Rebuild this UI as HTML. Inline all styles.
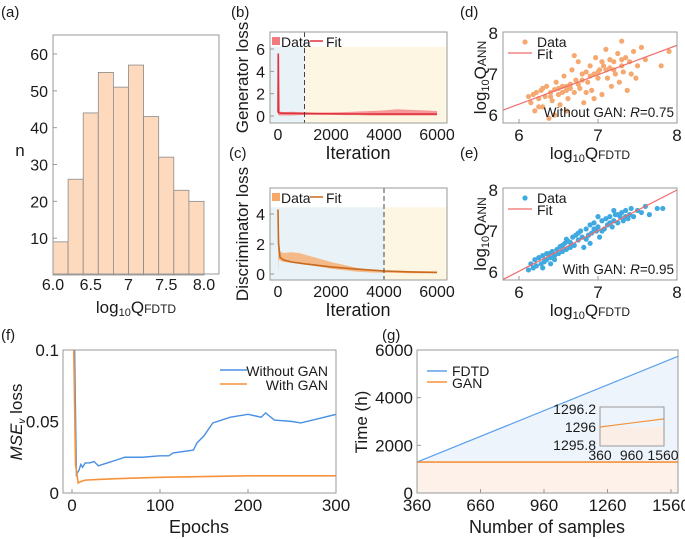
<!DOCTYPE html>
<html><head><meta charset="utf-8">
<style>
html,body{margin:0;padding:0;background:#fff;}
svg{display:block;font-family:"Liberation Sans",Arial,sans-serif;}
text{fill:#1a1a1a;}
</style></head>
<body>
<svg id="fig" width="685" height="539" viewBox="0 0 685 539" xmlns="http://www.w3.org/2000/svg"></svg>
<script>
// ---------- data ----------
const histBins = [6.0,6.2,6.4,6.6,6.8,7.0,7.2,7.4,7.6,7.8];
const histCounts = [9,26,44,55,51,57,43,32,23,20];
const histYTicks = [10,20,30,40,50,60];
const histXTicks = ["6.0","6.5","7","7.5","8.0"];
const histXTickVals = [6.0,6.5,7,7.5,8.0];

const genIter = [0,10,30,60,200,500,800,1000,1500,2000,2500,3000,3500,4000,4500,5000,5500,6000];
const genHi   = [0.5,5.8,0.45,0.4,0.35,0.38,0.35,0.35,0.3,0.32,0.35,0.4,0.45,0.5,0.6,0.55,0.5,0.45];
const genLo   = [0.1,0.1,0.05,0.05,0.05,0.05,0.08,0.1,0.1,0.1,0.08,0.08,0.05,0.05,0.05,0.05,0.05,0.05];
const genFitIter = [0,10,30,100,1000,3000,6000];
const genFit  = [0.3,5.6,0.3,0.25,0.22,0.18,0.17];

const discIter = [0,20,80,200,500,800,1000,1500,2000,2500,3000,3500,4000,5000,6000];
const discHi   = [4.3,3.0,1.5,1.4,1.45,1.4,1.3,1.05,0.8,0.6,0.4,0.3,0.25,0.2,0.18];
const discLo   = [0.1,1.0,0.9,0.8,0.75,0.7,0.65,0.5,0.35,0.25,0.15,0.1,0.08,0.05,0.05];
const discFitIter = [0,20,80,200,500,1000,2000,3000,4000,5000,6000];
const discFit  = [4.3,2.0,1.1,0.95,0.8,0.68,0.47,0.32,0.2,0.14,0.1];

const dPts = [[6.12,6.45],[6.15,6.3],[6.18,6.5],[6.2,6.1],[6.22,6.55],[6.25,6.4],[6.28,6.6],[6.3,6.2],[6.33,6.45],[6.35,6.7],[6.38,5.92],[6.4,6.55],[6.42,6.35],[6.45,6.62],[6.47,6.8],[6.5,6.5],[6.52,6.25],[6.55,6.7],[6.57,6.95],[6.6,6.6],[6.62,6.4],[6.65,6.75],[6.67,7.1],[6.7,6.55],[6.72,6.85],[6.75,7.3],[6.77,6.65],[6.8,7.0],[6.82,6.3],[6.85,7.05],[6.87,6.8],[6.9,7.2],[6.92,6.6],[6.95,7.0],[6.97,7.4],[7.0,6.9],[7.02,7.1],[7.05,6.5],[7.07,7.2],[7.1,7.6],[7.12,6.9],[7.15,7.15],[7.17,6.7],[7.2,7.3],[7.22,7.0],[7.25,7.5],[7.27,6.8],[7.3,7.2],[7.32,7.05],[7.35,7.4],[7.37,6.6],[7.4,7.3],[7.42,7.0],[7.45,7.55],[7.5,7.2],[7.55,7.65],[7.6,7.35],[7.3,7.8],[7.8,7.2],[7.9,7.55],[6.7,7.45],[6.6,6.1],[6.45,6.0],[7.15,7.35],[6.95,6.4],[7.05,7.3],[6.85,6.55],[6.3,6.65],[7.48,6.9],[6.25,6.2],[6.55,6.55],[6.65,6.65],[6.75,6.75],[6.9,6.95],[7.0,7.05],[7.1,7.1],[7.2,7.1],[6.4,6.45],[6.5,6.65],[7.3,7.35],[6.8,6.85],[6.6,6.7]];
const dFit = [[5.8,6.12],[8.0,7.7]];
const ePts = [[6.12,6.05],[6.15,6.2],[6.18,6.1],[6.2,6.3],[6.22,6.15],[6.25,6.35],[6.28,6.2],[6.3,6.4],[6.32,6.25],[6.35,6.3],[6.38,6.45],[6.4,6.35],[6.42,6.5],[6.45,6.4],[6.48,6.55],[6.5,6.45],[6.52,6.62],[6.55,6.5],[6.58,6.7],[6.6,6.55],[6.62,6.75],[6.65,6.6],[6.68,6.85],[6.7,6.65],[6.72,6.9],[6.75,6.78],[6.78,7.0],[6.8,6.85],[6.82,6.6],[6.85,7.05],[6.88,6.9],[6.9,7.15],[6.92,6.95],[6.95,7.2],[6.98,7.0],[7.0,7.1],[7.02,6.85],[7.05,7.25],[7.08,7.05],[7.1,7.3],[7.12,7.15],[7.15,7.35],[7.18,7.1],[7.2,7.25],[7.22,7.4],[7.25,7.2],[7.28,7.35],[7.3,7.45],[7.32,7.25],[7.35,7.5],[7.38,7.3],[7.4,7.4],[7.42,7.55],[7.45,7.35],[7.5,7.5],[7.55,7.45],[7.6,7.6],[7.65,7.4],[7.75,7.55],[7.82,7.55],[6.9,6.7],[7.0,7.35],[6.6,6.8],[6.4,6.2],[7.2,7.5],[6.3,6.1],[6.35,6.45],[6.55,6.65],[6.75,6.95],[6.95,7.05],[7.05,7.0],[7.15,7.2],[7.25,7.4],[7.35,7.35],[6.45,6.3],[6.65,6.72],[6.85,6.8]];
const eFit = [[5.8,5.82],[8.0,8.0]];

const fEpochs = [3,5,8,10,12,15,20,25,30,40,50,60,80,100,110,115,138,142,150,160,180,200,215,220,230,250,260,280,300];
const fBlue   = [0.1,0.013,0.016,0.02,0.018,0.021,0.021,0.022,0.019,0.021,0.023,0.025,0.025,0.026,0.026,0.028,0.03,0.035,0.04,0.049,0.053,0.055,0.053,0.056,0.051,0.05,0.049,0.052,0.055];
const fOrangeEp = [2,4,7,10,15,30,50,100,150,200,250,300];
const fOrange = [0.1,0.02,0.007,0.008,0.009,0.0095,0.01,0.011,0.0115,0.012,0.012,0.012];

const gSamples = [360,1593];
const gFDTD = [1296,5735];
const gGAN = [1296,1296.09];
const gXTicks = [360,660,960,1260,1560];
const gYTicks = [0,2000,4000,6000];

// ---------- helpers ----------
const NS="http://www.w3.org/2000/svg";
const svg=document.getElementById('fig');
function el(tag,attrs,parent){const e=document.createElementNS(NS,tag);for(const k in attrs)e.setAttribute(k,attrs[k]);(parent||svg).appendChild(e);return e;}
function txt(s,x,y,size,anchor,parent,extra){const t=el('text',Object.assign({x:x,y:y,'font-size':size,'text-anchor':anchor||'middle'},extra||{}),parent);t.textContent=s;return t;}
function lin(d0,d1,r0,r1){return v=>r0+(v-d0)*(r1-r0)/(d1-d0);}
function box(x0,y0,x1,y1,parent){return el('rect',{x:x0,y:y0,width:x1-x0,height:y1-y0,fill:'none',stroke:'#999','stroke-width':1},parent);}
const TF=16, AF=18;

// ---------- panel labels ----------
[["(a)",1,17],["(b)",231,17],["(c)",229,158],["(d)",460,17],["(e)",460,158],["(f)",1,340],["(g)",382,340]].forEach(p=>{
 const t=txt(p[0],p[1],p[2],15,'start');
 
 
});

// ---------- (a) histogram ----------
(function(){
 const g=el('g',{});
 
 
 const X=lin(6.0,8.0,53,204), Y=lin(0,60,275,54);
 histCounts.forEach((c,i)=>{
  const r=el('rect',{x:X(histBins[i]),y:Y(c),width:X(histBins[i]+0.2)-X(histBins[i]),height:Y(0)-Y(c),fill:'#fdd9bd',stroke:'#8a8a8a','stroke-width':0.8},g);
  
  
 });
 box(53,35,219,274,g);
 histYTicks.forEach(v=>{el('line',{x1:53,x2:57,y1:Y(v),y2:Y(v),stroke:'#999'},g);txt(String(v),48,Y(v)+6,TF,'end',g);});
 histXTicks.forEach((s,i)=>txt(s,X(histXTickVals[i]),290,TF,'middle',g));
 const n=txt('n',20,156,17,'middle',g);
 
 
 const xl=el('text',{x:136,y:313,'font-size':17,'text-anchor':'middle'},g);
 xl.innerHTML='log<tspan font-size="11" dy="3">10</tspan><tspan dy="-3">Q</tspan><tspan font-size="12">FDTD</tspan>';
 
 
})();

// ---------- (b)(c) loss panels ----------
function lossPanel(name,top,bot,ymax,yTicks,split,iter,hi,lo,fitIt,fit,dataCol,fitCol,ylabel,shadeTop){
 const g=el('g',{});
 
 
 const X=lin(0,6000,278,437);
 const Y=lin(0,ymax,yTicks.y0,yTicks.yTop);
 el('rect',{x:270,y:Y(shadeTop),width:X(split)-270,height:bot-Y(shadeTop),fill:'#e9f3f7'},g);
 el('rect',{x:X(split),y:Y(shadeTop),width:447-X(split),height:bot-Y(shadeTop),fill:'#fdf6e3'},g);
 let pts=iter.map((t,i)=>X(t)+','+Y(hi[i])).join(' ')+' '+iter.slice().reverse().map((t,i)=>X(t)+','+Y(lo[lo.length-1-i])).join(' ');
 const band=el('polygon',{points:pts,fill:dataCol,opacity:0.75},g);
 
 
 const fl=el('polyline',{points:fitIt.map((t,i)=>X(t)+','+Y(fit[i])).join(' '),fill:'none',stroke:fitCol,'stroke-width':1.6},g);
 
 
 el('line',{x1:X(split),x2:X(split),y1:top,y2:bot,stroke:'#444','stroke-dasharray':'5,3','stroke-width':1},g);
 box(270,top,447,bot,g);
 yTicks.vals.forEach(v=>{el('line',{x1:270,x2:274,y1:Y(v),y2:Y(v),stroke:'#999'},g);txt(String(v),265,Y(v)+6,TF,'end',g);});
 [0,2000,4000,6000].forEach(v=>txt(String(v),X(v),bot+17,TF,'middle',g));
 el('rect',{x:272,y:top+5,width:8,height:8,fill:dataCol},g);
 txt('Data',281,top+15,14,'start',g);
 el('line',{x1:310,x2:323,y1:top+9,y2:top+9,stroke:fitCol,'stroke-width':1.5},g);
 txt('Fit',326,top+15,14,'start',g);
 const yl=txt(ylabel,0,0,17,'middle',g,{transform:'translate(248,'+((top+bot)/2)+') rotate(-90)'});
 
 
 const xl=txt('Iteration',358,bot+36,AF,'middle',g);
 
 
}
lossPanel('generator-loss-panel',32,123,6,{vals:[0,2,4,6],y0:116,yTop:49},1000,genIter,genHi,genLo,genFitIter,genFit,'#f47a7f','#e0323c','Generator loss',6.2);
lossPanel('discriminator-loss-panel',188,280,4,{vals:[0,2,4],y0:274,yTop:214},4000,discIter,discHi,discLo,discFitIter,discFit,'#f7a766','#c96a1e','Discriminator loss',4.45);

// ---------- (d)(e) scatter ----------
function scatter(name,top,bot,y8,y6,pts,fit,col,note,rtext){
 const g=el('g',{});
 
 
 const X=lin(6,8,519,677), Y=lin(6,8,y6,y8);
 g.appendChild(document.createElementNS(NS,'defs')).innerHTML='<clipPath id="c'+name+'"><rect x="503" y="'+top+'" width="174" height="'+(bot-top)+'"/></clipPath>';
 const cg=el('g',{'clip-path':'url(#c'+name+')'},g);
 pts.forEach(p=>{
  const c=el('circle',{cx:X(p[0]),cy:Y(p[1]),r:2.6,fill:col},cg);
  
  
 });
 const fl=el('line',{x1:X(fit[0][0]),y1:Y(fit[0][1]),x2:X(fit[1][0]),y2:Y(fit[1][1]),stroke:'#ef6b6b','stroke-width':1.2},cg);
 
 
 box(503,top,677,bot,g);
 [6,7,8].forEach(v=>{txt(String(v),498,Y(v)+6,17,'end',g);txt(String(v),X(v),bot+18,17,'middle',g);el('line',{x1:X(v),x2:X(v),y1:bot,y2:bot-4,stroke:'#999'},g);});
 el('circle',{cx:525,cy:top+10,r:2.6,fill:col},g);
 txt('Data',537,top+15,14,'start',g);
 el('line',{x1:508,x2:532,y1:top+21,y2:top+21,stroke:'#ef6b6b','stroke-width':1.2},g);
 txt('Fit',537,top+27,14,'start',g);
 const nt=el('text',{x:674,y:bot-6,'font-size':13.5,'text-anchor':'end'},g);
 nt.innerHTML=note+': <tspan font-style="italic">R</tspan>='+rtext;
 const yl=el('text',{transform:'translate(486,'+((top+bot)/2)+') rotate(-90)','font-size':17,'text-anchor':'middle'},g);
 yl.innerHTML='log<tspan font-size="11" dy="3">10</tspan><tspan dy="-3">Q</tspan><tspan font-size="12">ANN</tspan>';
 
 
 const xl=el('text',{x:590,y:bot+36,'font-size':17,'text-anchor':'middle'},g);
 xl.innerHTML='log<tspan font-size="11" dy="3">10</tspan><tspan dy="-3">Q</tspan><tspan font-size="12">FDTD</tspan>';
 
 
}
scatter('d-without-gan-scatter',32,123,33,115,dPts,dFit,'#f5a870','Without GAN','0.75');
scatter('e-with-gan-scatter',188,280,190,272,ePts,eFit,'#3fa9e0','With GAN','0.95');

// ---------- (f) MSE ----------
(function(){
 const g=el('g',{});
 
 
 const X=lin(0,300,72,336), Y=lin(0,0.1,493,350);
 g.appendChild(document.createElementNS(NS,'defs')).innerHTML='<clipPath id="cf"><rect x="63" y="350" width="273" height="143"/></clipPath>';
 const cg=el('g',{'clip-path':'url(#cf)'},g);
 const b=el('polyline',{points:fEpochs.map((e,i)=>X(e)+','+Y(fBlue[i])).join(' '),fill:'none',stroke:'#4a90e2','stroke-width':1.4},cg);
 
 
 const o=el('polyline',{points:fOrangeEp.map((e,i)=>X(e)+','+Y(fOrange[i])).join(' '),fill:'none',stroke:'#f7923a','stroke-width':1.6},cg);
 
 
 box(63,350,336,493,g);
 [[0,'0'],[0.05,'0.05'],[0.1,'0.1']].forEach(t=>txt(t[1],59,Y(t[0])+6,17,'end',g));
 [0,100,200,300].forEach(v=>{txt(String(v),X(v),511,17,'middle',g);el('line',{x1:X(v),x2:X(v),y1:493,y2:489,stroke:'#999'},g);});
 el('line',{x1:220,x2:247,y1:370,y2:370,stroke:'#4a90e2','stroke-width':1.4},g);
 el('line',{x1:220,x2:247,y1:384,y2:384,stroke:'#f7923a','stroke-width':1.6},g);
 txt('Without GAN',328,376,14,'end',g);
 txt('With   GAN',328,390,14,'end',g,{'xml:space':'preserve'});
 const yl=el('text',{transform:'translate(22,422) rotate(-90)','font-size':17,'text-anchor':'middle'},g);
 yl.innerHTML='<tspan font-style="italic">MSE</tspan><tspan font-style="italic" font-size="10" dy="3">v</tspan><tspan dy="-3">  loss</tspan>';
 
 
 const xl=txt('Epochs',199,533,AF,'middle',g);
 
 
})();

// ---------- (g) Time ----------
(function(){
 const g=el('g',{});
 
 
 const X=lin(360,1560,417,671), Y=lin(0,6000,493,350);
 el('polygon',{points:[X(gSamples[0])+','+Y(gFDTD[0]),X(gSamples[1])+','+Y(gFDTD[1]),X(gSamples[1])+','+Y(gGAN[0]),X(gSamples[0])+','+Y(gGAN[0])].join(' '),fill:'#eef4fc'},g);
 el('rect',{x:417,y:Y(gGAN[0]),width:261,height:493-Y(gGAN[0]),fill:'#fdf1ea'},g);
 const f=el('line',{x1:X(gSamples[0]),y1:Y(gFDTD[0]),x2:X(gSamples[1]),y2:Y(gFDTD[1]),stroke:'#5aa0ee','stroke-width':1.2},g);
 
 
 const gl=el('line',{x1:X(gSamples[0]),y1:Y(gGAN[0]),x2:X(gSamples[1]),y2:Y(gGAN[1]),stroke:'#f7923a','stroke-width':1.6},g);
 
 
 box(417,350,678,493,g);
 gYTicks.forEach(v=>{txt(String(v),413,Y(v)+6,17,'end',g);el('line',{x1:417,x2:421,y1:Y(v),y2:Y(v),stroke:'#999'},g);});
 gXTicks.forEach(v=>{txt(String(v),X(v),511,17,'middle',g);el('line',{x1:X(v),x2:X(v),y1:493,y2:489,stroke:'#999'},g);});
 el('line',{x1:427,x2:447,y1:371,y2:371,stroke:'#5aa0ee','stroke-width':1.4},g);
 el('line',{x1:427,x2:447,y1:382,y2:382,stroke:'#f7923a','stroke-width':1.6},g);
 txt('FDTD',452,376,14,'start',g);
 txt('GAN',452,388,14,'start',g);
 // inset
 const ig=el('g',{},g);
 
 
 const IX=lin(360,1560,600,663), IY=lin(1295.8,1296.2,445,409);
 el('rect',{x:600,y:IY(gGAN[0]),width:64,height:445-IY(gGAN[0]),fill:'#fbeee6'},ig);
 el('line',{x1:IX(gSamples[0]),y1:IY(gGAN[0]),x2:664,y2:IY(gGAN[1]),stroke:'#f7923a','stroke-width':1.2},ig);
 box(600,407,664,446,ig);
 [[1296.2,'1296.2'],[1296,'1296'],[1295.8,'1295.8']].forEach(t=>txt(t[1],596,IY(t[0])+5,14,'end',ig));
 [360,960,1560].forEach(v=>txt(String(v),IX(v),460,14,'middle',ig));
 const yl=txt('Time (h)',0,0,17,'middle',g,{transform:'translate(367,422) rotate(-90)'});
 
 
 const xl=txt('Number of samples',547,533,AF,'middle',g);
 
 
})();
</script>
</body></html>
